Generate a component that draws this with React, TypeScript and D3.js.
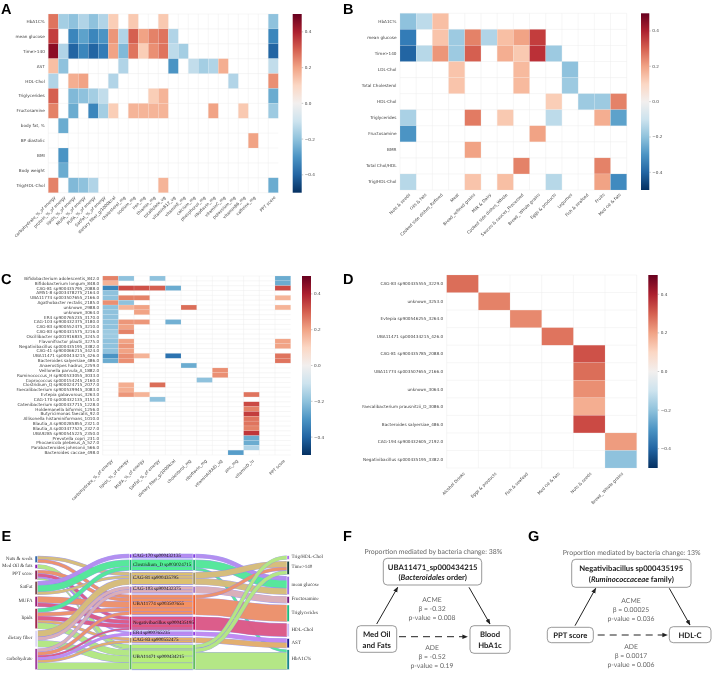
import React from 'react';
import * as d3 from 'd3';

// ---------- Panel A ----------
const aRows = ['HbA1C%','mean glucose','Time>140','AST','HDL-Chol','Triglycerides','Fructosamine','body fat, %','BP diastolic','BMI','Body weight','Trig/HDL-Chol'];
const aCols = ['carbohydrate_%_of energy','protein_%_of energy','lipids_%_of energy','MUFA_%_of energy','PUFA_%_of energy','SatFat_%_of energy','dietary fiber_g/1000kcal','cholesterol_mg','sodium_mg','iron_mg','thiamin_mg','totalfolate_ug','vitaminB12_ug','vitaminE_mg','calcium_mg','phosphorus_mg','riboflavin_mg','vitaminC_mg','potassium_mg','vitaminB6_mg','caffeine_mg'];
const aValues = [
  [.27,-.17,-.2,-.15,-.2,-.15,.12,0,.13,0,0,.13,0,0,0,0,0,0,0,0,0],
  [.35,0,-.33,-.27,-.33,-.3,.22,-.15,.3,.2,.25,.27,-.15,0,0,0,0,0,0,0,0],
  [.45,-.15,-.4,-.33,-.4,-.35,.2,-.22,.27,.12,.23,.27,-.13,-.17,0,0,0,0,0,0,0],
  [.15,-.2,0,0,0,0,0,-.15,0,0,0,0,-.3,0,-.12,-.17,-.15,.18,0,0,0],
  [-.15,0,.18,.2,0,0,-.15,0,0,0,0,0,0,0,0,0,0,0,-.15,0,0],
  [.3,0,-.22,-.2,-.17,-.12,0,0,0,0,.12,.17,0,0,0,0,0,0,0,0,0],
  [.25,0,-.25,0,-.33,-.17,.12,0,.17,.17,.17,.17,0,0,0,0,.2,0,0,.13,0],
  [0,-.25,0,0,0,0,0,0,0,0,0,0,0,0,0,0,0,0,0,0,0],
  [0,0,0,0,0,0,0,0,0,0,0,0,0,0,0,0,0,0,0,0,.2],
  [0,-.3,0,0,0,0,0,0,0,0,0,0,0,0,0,0,0,0,0,0,0],
  [0,-.25,0,0,0,0,0,0,0,0,0,0,0,0,0,0,0,0,0,0,0],
  [.25,0,-.22,-.2,-.15,0,0,0,0,0,0,.17,0,0,0,0,0,0,0,0,0],
];
const aPPT = [-.2,-.33,-.4,-.12,.23,-.25,-.18,0,0,0,0,-.25];

// ---------- Panel B ----------
const bRows = ['HbA1C%','mean glucose','Time>140','LDL-Chol','Total Cholesterol','HDL-Chol','Triglycerides','Fructosamine','BMR','Total Chol/HDL','Trig/HDL-Chol'];
const bCols = ['Nuts & seeds','Oils & fats','Cooked side dishes_Refined','Meat','Bread_refined grains','Milk & Dairy','Cooked side dishes_Whole','Sauces & sauces_Processed','Bread_ Whole grains','Eggs & products','Legumes','Fish & seafood','Fruits','Med Oil & fats'];
const bValues = [
  [-.2,-.13,.15,0,0,0,0,0,0,0,0,0,0,0],
  [-.35,0,.14,-.18,.25,-.15,.15,.2,.35,0,0,0,0,0],
  [-.4,-.14,.22,-.18,.3,0,.18,.13,.37,-.18,0,0,0,0],
  [0,0,0,.14,0,0,0,.16,0,0,-.2,0,0,0],
  [0,0,0,.14,0,0,0,.16,0,0,-.18,0,0,0],
  [0,0,0,0,0,0,0,0,0,.12,0,-.18,-.18,.25],
  [-.16,0,0,0,.26,0,.13,0,0,-.13,0,0,.18,-.27],
  [-.3,0,0,0,0,0,0,0,.2,0,0,0,0,0],
  [0,0,0,0,.2,0,0,0,0,0,0,0,0,0],
  [0,0,0,0,0,0,0,.25,0,0,0,0,.25,0],
  [-.14,0,0,0,.14,0,.15,0,0,-.14,0,0,.2,-.32],
];

// ---------- Panel C ----------
const cRows = ['Bifidobacterium adolescentis_842.0','Bifidobacterium longum_848.0','CAG-81 sp900435795_2088.0','AM51-8 sp003478275_2164.0','UBA11774 sp003507655_2166.0','Agathobacter rectalis_2185.0','unknown_2988.0','unknown_3064.0','ER4 sp900765235_3170.0','CAG-103 sp900432375_3180.0','CAG-83 sp900552475_3210.0','CAG-83 sp900431575_3216.0','Oscillibacter sp001916835_3245.0','Flavonifractor plautii_3275.0','Negativibacillus sp000435195_3382.0','CAG-41 sp900066215_3424.0','UBA11471 sp000434215_426.0','Bacteroides salyersiae_486.0','Anaerostipes hadrus_2259.0','Veillonella parvula_A_1882.0','Ruminococcus_H sp900533055_3033.0','Coprococcus sp000154245_2160.0','Clostridium_Q sp900024715_2077.0','Faecalibacterium sp900539945_3083.0','Evtepia gabavorous_3263.0','CAG-170 sp000432135_3151.0','Catenibacterium sp000437715_1228.0','Holdemanella biformis_1256.0','Butyricimonas faecalis_92.0','Allisonella histaminiformans_1010.0','Blautia_A sp900285855_2321.0','Blautia_A sp003477525_2327.0','UBA9285 sp900545225_2350.0','Prevotella copri_231.0','Phocaeicola plebeius_A_527.0','Parabacteroides johnsonii_566.0','Bacteroides caccae_498.0'];
const cCols = ['carbohydrate_%_of energy','lipids_%_of energy','MUFA_%_of energy','SatFat_%_of energy','dietary fiber_g/1000kcal','cholesterol_mg','riboflavin_mg','vitaminA(RAE)_ug','zinc_mg','vitaminD_iu'];
const cValues = [
  [.25,-.2,0,-.2,0,0,0,0,0,0],
  [.17,0,0,0,0,0,0,0,0,0],
  [-.33,.33,.32,.3,-.25,0,0,0,0,0],
  [-.2,0,0,0,0,0,0,0,0,0],
  [-.2,.25,.25,0,0,0,0,0,0,0],
  [.23,-.2,0,0,0,0,0,0,0,0],
  [-.2,.17,.2,0,0,.28,0,0,0,0],
  [-.2,0,.2,0,0,0,0,0,0,0],
  [-.2,0,0,0,0,0,0,0,0,0],
  [-.2,.22,.22,0,-.24,0,0,0,0,0],
  [-.2,.2,0,0,0,0,0,0,0,0],
  [-.18,.25,0,0,0,0,0,0,0,0],
  [-.18,0,0,0,0,0,0,0,0,0],
  [-.2,.2,0,0,0,0,0,0,0,0],
  [-.2,.22,0,0,0,0,0,0,0,0],
  [-.2,.2,0,0,0,0,0,0,0,0],
  [-.3,.23,.17,0,-.37,0,0,0,0,0],
  [-.25,.23,0,0,0,0,0,0,0,0],
  [0,0,0,0,0,-.25,0,0,0,0],
  [0,0,0,0,0,0,0,.23,0,0],
  [0,0,0,0,0,0,0,.23,0,0],
  [0,0,0,0,0,0,-.2,0,0,0],
  [0,.18,0,.28,0,0,0,0,0,0],
  [0,.18,0,0,0,0,0,0,0,0],
  [0,.22,.17,0,0,0,0,0,0,.27],
  [0,0,0,-.2,0,0,0,0,0,0],
  [0,0,0,0,0,0,0,0,0,.33],
  [0,0,0,0,0,0,0,0,0,.25],
  [0,0,0,0,0,0,0,0,0,.35],
  [0,0,0,0,0,0,0,0,0,.27],
  [0,0,0,0,0,0,0,0,0,.27],
  [0,0,0,0,0,0,0,0,0,.25],
  [0,0,0,0,0,0,0,0,0,.36],
  [0,0,0,0,0,0,0,0,0,-.25],
  [0,0,0,0,0,0,0,0,0,-.25],
  [0,0,0,0,0,0,0,0,0,-.15],
  [0,0,0,0,0,0,0,0,-.28,0],
];
const cPPT = [-.25,-.25,.33,0,.17,0,.17,0,0,0,0,0,0,.2,.2,0,.27,.27,0,0,0,0,0,0,0,0,0,0,0,0,0,0,0,0,0,0,0];

// ---------- Panel D ----------
const dRows = ['CAG-83 sp900435555_3229.0','unknown_3253.0','Evtepia sp900546255_3264.0','UBA11471 sp000434215_426.0','CAG-81 sp900435785_2088.0','UBA11774 sp003507655_2166.0','unknown_3064.0','Faecalibacterium prausnitzii_D_3086.0','Bacteroides salyersiae_486.0','CAG-194 sp900432605_2192.0','Negativibacillus sp000435195_3382.0'];
const dCols = ['Alcohol Drinks','Eggs & products','Fish & seafood','Med Oil & fats','Nuts & seeds','Bread_ Whole grains'];
const dValues = [
  [.28,0,0,0,0,0],
  [0,.25,0,0,0,0],
  [0,0,.24,0,0,0],
  [0,0,0,.27,0,0],
  [0,0,0,0,.32,0],
  [0,0,0,0,.28,0],
  [0,0,0,0,.23,0],
  [0,0,0,0,.18,0],
  [0,0,0,0,.33,0],
  [0,0,0,0,0,.21],
  [0,0,0,0,0,-.2],
];

// ---------- Panel E ----------
const leftNodes = ['Nuts & seeds','Med Oil & fats','PPT score','SatFat','MUFA','lipids','dietary fiber','carbohydrate'];
const midNodes = ['CAG-170 sp000432135','Clostridium_D sp003024715','CAG-81 sp900435795','CAG-103 sp900432375','UBA11774 sp003507655','Negativibacillus sp000435195','ER4 sp900765235','CAG-83 sp900552475','UBA11471 sp000434215'];
const rightNodes = ['Trig/HDL-Chol','Time>140','mean glucose','Fructosamine','Triglycerides','HDL-Chol','AST','HbA1C%'];
const leftFlows: [number, number, number][] = [
  [0,2,10],[0,4,10],[1,8,12],[2,4,10],[2,5,10],[2,6,4],[2,8,4],
  [3,0,12],[3,1,20],[3,2,8],[4,4,19],[4,5,12],
  [5,1,12],[5,4,11],[5,5,12],[5,7,8],[5,8,18],
  [6,2,19],[6,3,10],[6,8,20],
  [7,3,10],[7,4,10],[7,5,6],[7,6,8],[7,7,8],[7,8,21],
];
const rightFlows: [number, number, number][] = [
  [0,2,12],[1,2,24],[1,7,8],[2,1,18],[2,2,19],[3,3,20],[4,1,10],[4,4,50],
  [5,5,40],[6,6,12],[7,6,16],[8,0,11],[8,1,12],[8,7,52],
];
const flowColors = ['#b68cf0','#4fee92','#dcc070','#e0b0b4','#f49160','#e25580','#c487f2','#e9b062','#b6ee7a'];
const leftNodeColors = ['#3566a8','#8a22b0','#8a2a5a','#7a4a50','#96207a','#a02a50','#ddd6f4','#a040a0'];
const midNodeColors = ['#7a35e0','#14b070','#a09060','#a070c0','#f05a28','#c00a60','#8a35e0','#a88a50','#5ab85a'];
const rightNodeColors = ['#a868e8','#103838','#9468e0','#70107c','#12b878','#c8b8f4','#10108c','#108088'];

const colorScale = d3.scaleSequential((t: number) => d3.interpolateRdBu(1 - t)).domain([-0.5, 0.5]);
const barTicks = [-0.4, -0.2, 0, 0.2, 0.4];
const sansFont = '"DejaVu Sans", sans-serif';
const serifFont = '"Liberation Serif", serif';
const lato = 'Lato, "Open Sans", sans-serif';
const txt = '#444';

function T(p: any) {
  const { s, family, fs, weight, ...rest } = p;
  return (
    <text fontFamily={family} fontSize={fs} fontWeight={weight} {...rest}>{s}</text>
  );
}

type HM = {
  left: number; right: number; top: number; bottom: number;
  rows: string[]; cols: string[]; values: number[][];
  ppt?: number[]; pptLeft?: number; pptRight?: number;
  barLeft: number; barRight: number; gid: string; xOffset?: number; fs?: number;
};

function Heatmap(p: HM) {
  const fs = p.fs ?? 4.2;
  const x = d3.scaleBand<string>().domain(p.cols).range([p.left, p.right]);
  const y = d3.scaleBand<string>().domain(p.rows).range([p.top, p.bottom]);
  const barY = d3.scaleLinear().domain([-0.5, 0.5]).range([p.bottom, p.top]);
  const tx = p.bottom + (p.xOffset ?? 4);
  const pptX = p.pptLeft !== undefined ? (p.pptLeft + p.pptRight!) / 2 : 0;
  const grid = '#ececec';
  return (
    <g>
      <g stroke={grid} strokeWidth={0.5}>
        {p.rows.map((r, i) => (
          <line key={r + i} x1={p.left} x2={p.pptRight ?? p.right} y1={y.step() * i + p.top} y2={y.step() * i + p.top} />
        ))}
        <line x1={p.left} x2={p.pptRight ?? p.right} y1={p.bottom} y2={p.bottom} />
        {p.cols.map((c) => (
          <line key={c} x1={x(c)!} x2={x(c)!} y1={p.top} y2={p.bottom} />
        ))}
        <line x1={p.right} x2={p.right} y1={p.top} y2={p.bottom} />
        {p.pptLeft !== undefined && <line x1={p.pptLeft} x2={p.pptLeft} y1={p.top} y2={p.bottom} />}
      </g>
      {p.values.map((row, i) =>
        row.map((v, j) =>
          v !== 0 ? (
            <rect key={`${i}-${j}`} x={x(p.cols[j])!} y={y.step() * i + p.top} width={x.bandwidth()} height={y.bandwidth()}
              fill={colorScale(v)} stroke="#fff" strokeOpacity={0.3} strokeWidth={0.4} />
          ) : null
        )
      )}
      {p.ppt && p.ppt.map((v, i) =>
        v !== 0 ? (
          <rect key={i} x={p.pptLeft} y={y.step() * i + p.top} width={p.pptRight! - p.pptLeft!} height={y.bandwidth()}
            fill={colorScale(v)} stroke="#fff" strokeOpacity={0.3} strokeWidth={0.4} />
        ) : null
      )}
      {p.rows.map((r, i) => (
        <T key={r + i} s={r} family={sansFont} fs={fs} x={p.left - 3.5} y={y.step() * i + p.top + y.bandwidth() / 2} textAnchor="end" dominantBaseline="central" fill={txt} />
      ))}
      {p.cols.map((c) => {
        const cx = x(c)! + x.bandwidth() / 2;
        return (
          <T key={c} s={c} family={sansFont} fs={fs} transform={`translate(${cx + 1.5},${tx}) rotate(-45)`} textAnchor="end" dominantBaseline="central" fill={txt} />
        );
      })}
      {p.ppt && (
        <T s="PPT score" family={sansFont} fs={fs} transform={`translate(${pptX + 1.5},${tx}) rotate(-45)`} textAnchor="end" dominantBaseline="central" fill={txt} />
      )}
      <defs>
        <linearGradient id={p.gid} x1="0" x2="0" y1="0" y2="1">
          {d3.range(0, 1.001, 0.1).map((t) => (
            <stop key={t} offset={t} stopColor={d3.interpolateRdBu(t)} />
          ))}
        </linearGradient>
      </defs>
      <rect x={p.barLeft} y={p.top} width={p.barRight - p.barLeft} height={p.bottom - p.top} fill={`url(#${p.gid})`} />
      {barTicks.map((t) => (
        <g key={t}>
          <line x1={p.barRight} x2={p.barRight + 1.5} y1={barY(t)} y2={barY(t)} stroke="#777" strokeWidth={0.4} />
          <T s={d3.format('.1f')(t).replace('-', '\u2212')} family={sansFont} fs={fs} x={p.barRight + 3} y={barY(t)} dominantBaseline="central" fill={txt} />
        </g>
      ))}
    </g>
  );
}

function Sankey() {
  const unit = d3.scaleLinear().domain([0, 1]).range([0, 1 / 3]);
  const xs = { l0: 35, l1: 37.6, m0: 129.5, m1: 131.8, n0: 193, n1: 195.2, r0: 287, r1: 289.2 };
  const stack = (vals: number[], top: number, bottom: number) => {
    const total = d3.sum(vals.map((v) => unit(v)));
    const gap = (bottom - top - total) / (vals.length - 1);
    let cur = top;
    return vals.map((v) => {
      const y0 = cur;
      cur += unit(v);
      const y1 = cur;
      cur += gap;
      return [y0, y1];
    });
  };
  const lTot = leftNodes.map((_, i) => d3.sum(leftFlows.filter((f) => f[0] === i), (f) => f[2]));
  const mTot = midNodes.map((_, i) => d3.sum(rightFlows.filter((f) => f[0] === i), (f) => f[2]));
  const rTot = rightNodes.map((_, i) => d3.sum(rightFlows.filter((f) => f[1] === i), (f) => f[2]));
  const lY = stack(lTot, 556, 669.7);
  const mY = stack(mTot, 554, 669.7);
  const rY = stack(rTot, 555.7, 669.7);
  const link = d3.linkHorizontal<any, any>().x((d) => d[0]).y((d) => d[1]);

  const makeLinks = (flows: [number, number, number][], sY: number[][], tY: number[][], x0: number, x1: number, colorOf: (f: [number, number, number]) => string) => {
    const sOff = sY.map((d) => d[0]);
    const tOff = tY.map((d) => d[0]);
    const sorted = flows.slice().sort((a, b) => a[0] - b[0] || a[1] - b[1]);
    return sorted.map((f) => {
      const w = unit(f[2]);
      const ys = sOff[f[0]] + w / 2;
      const yt = tOff[f[1]] + w / 2;
      sOff[f[0]] += w;
      tOff[f[1]] += w;
      return { f, w, ys, yt, x0, x1, color: colorOf(f), d: link({ source: [x0, ys], target: [x1, yt] }) as string };
    });
  };
  const lLinks = makeLinks(leftFlows, lY, mY, xs.l1, xs.m0, (f) => flowColors[f[1]]);
  const rLinks = makeLinks(rightFlows, mY, rY, xs.n1, xs.r0, (f) => flowColors[f[0]]);
  const outline = '#8f8cf0';
  const all = [...lLinks, ...rLinks];
  return (
    <g>
      {all.map((l, i) => (
        <g key={i} fill="none">
          <path d={l.d} stroke={outline} strokeWidth={l.w + 0.5} strokeOpacity={0.8} />
          <path d={l.d} stroke={l.color} strokeWidth={Math.max(l.w - 0.3, 0.2)} strokeOpacity={0.9} />
        </g>
      ))}
      {midNodes.map((m, i) => (
        <rect key={m} x={xs.m1} y={mY[i][0]} width={xs.n0 - xs.m1} height={mY[i][1] - mY[i][0]} fill={flowColors[i]} stroke={outline} strokeWidth={0.5} />
      ))}
      {lLinks.map((l, i) => (
        <line key={i} x1={xs.m1} x2={xs.n0} y1={l.yt + l.w / 2} y2={l.yt + l.w / 2} stroke={outline} strokeWidth={0.5} />
      ))}
      {[
        [leftNodes, lY, xs.l0, xs.l1, leftNodeColors],
        [midNodes, mY, xs.m0, xs.m1, midNodeColors],
        [midNodes, mY, xs.n0, xs.n1, midNodeColors],
        [rightNodes, rY, xs.r0, xs.r1, rightNodeColors],
      ].map(([names, ys, a, b, cols]: any, k) =>
        names.map((n: string, i: number) => (
          <rect key={k + n} x={a} y={ys[i][0]} width={b - a} height={ys[i][1] - ys[i][0]} fill={cols[i]} stroke="#fff" strokeWidth={0.5} />
        ))
      )}
      <g fill="#333" dominantBaseline="central">
        {leftNodes.map((n, i) => (
          <T key={n} s={n} family={serifFont} fs={5} x={32.5} y={(lY[i][0] + lY[i][1]) / 2} textAnchor="end" />
        ))}
        {midNodes.map((n, i) => (
          <T key={n} s={n} family={serifFont} fs={5} x={133} y={(mY[i][0] + mY[i][1]) / 2} fill="#111" />
        ))}
        {rightNodes.map((n, i) => (
          <T key={n} s={n} family={serifFont} fs={5} x={291.5} y={(rY[i][0] + rY[i][1]) / 2} />
        ))}
      </g>
    </g>
  );
}

function Box(p: { x0: number; x1: number; y0: number; y1: number }) {
  return <rect x={p.x0} y={p.y0} width={p.x1 - p.x0} height={p.y1 - p.y0} rx={4} fill="#fff" stroke="#555" strokeWidth={0.6} />;
}
function Stat(p: { x: number; y: number; lines: string[] }) {
  return (
    <g fill="#666" textAnchor="middle">
      {p.lines.map((l, i) => (
        <T key={l} s={l} family={lato} fs={6.8} x={p.x} y={p.y + i * 9.2} />
      ))}
    </g>
  );
}

function Mediation() {
  const boldT = (x: number, y: number, t: React.ReactNode) => (
    <text x={x} y={y} fontFamily={lato} fontWeight={700} fontSize={7.7} fill="#222" textAnchor="middle" dominantBaseline="central">{t}</text>
  );
  const arrows = [
    [376.7, 624, 397.7, 587.3, false],
    [469, 587.3, 490, 624, false],
    [399, 636.7, 467.3, 636.7, true],
    [575, 625.7, 595.7, 588.3, false],
    [669.3, 588.3, 690, 625, false],
    [597.7, 635, 667.3, 635, true],
  ] as [number, number, number, number, boolean][];
  return (
    <g>
      <defs>
        <marker id="ah" viewBox="0 0 10 10" refX="9" refY="5" markerWidth="5.5" markerHeight="5.5" orient="auto" markerUnits="userSpaceOnUse">
          <path d="M0,1 L10,5 L0,9 Z" fill="#222" />
        </marker>
      </defs>
      <T s="Proportion mediated by bacteria change: 38%" family={lato} fs={6.9} x={433.3} y={552} fill="#666" textAnchor="middle" dominantBaseline="central" />
      <T s="Proportion mediated by bacteria change: 13%" family={lato} fs={6.9} x={631.7} y={553.3} fill="#666" textAnchor="middle" dominantBaseline="central" />
      <Box x0={383.3} x1={481.7} y0={558.3} y1={585} />
      <Box x0={356.7} x1={396.7} y0={625.7} y1={652.3} />
      <Box x0={470} x1={510} y0={625.7} y1={653.3} />
      <Box x0={571.7} x1={691} y0={559.3} y1={587.3} />
      <Box x0={547.3} x1={593.3} y0={627.3} y1={642.7} />
      <Box x0={669.3} x1={711} y0={626.7} y1={642.7} />
      {boldT(432.7, 566.7, 'UBA11471_sp000434215')}
      {boldT(432.7, 577, <tspan>(<tspan fontStyle="italic">Bacteroidales</tspan> order)</tspan>)}
      {boldT(376.7, 633.5, 'Med Oil')}
      {boldT(376.7, 644.7, 'and Fats')}
      {boldT(490, 633.5, 'Blood')}
      {boldT(490, 644.7, 'HbA1c')}
      {boldT(631.3, 567.5, 'Negativibacillus sp000435195')}
      {boldT(631.3, 578.5, <tspan>(<tspan fontStyle="italic">Ruminococcaceae</tspan> family)</tspan>)}
      {boldT(570.3, 635, 'PPT score')}
      {boldT(690, 635, 'HDL-C')}
      {arrows.map((a, i) => (
        <line key={i} x1={a[0]} y1={a[1]} x2={a[2]} y2={a[3]} stroke="#222" strokeWidth={1} strokeDasharray={a[4] ? '7 5' : undefined} markerEnd="url(#ah)" />
      ))}
      <Stat x={432} y={601.5} lines={['ACME', '\u03b2 = -0.32', 'p-value = 0.008']} />
      <Stat x={432} y={650} lines={['ADE', '\u03b2 = -0.52', 'p-value = 0.19']} />
      <Stat x={631} y={602.5} lines={['ACME', '\u03b2 = 0.00025', 'p-value = 0.036']} />
      <Stat x={631} y={649} lines={['ADE', '\u03b2 = 0.0017', 'p-value = 0.006']} />
    </g>
  );
}

const panelLetters: [string, number, number][] = [
  ['A', 1, 13.5], ['B', 343, 13.5], ['C', 1, 283.5], ['D', 343, 283.5], ['E', 1.5, 541], ['F', 343, 541], ['G', 528, 541],
];

export default function App() {
  return (
    <svg width={712} height={673} viewBox="0 0 712 673" textRendering="geometricPrecision" style={{ position: 'absolute', left: 0, top: 0, background: '#fff', filter: 'blur(0.3px)' }}>
      <Heatmap left={48.3} right={258.3} top={14} bottom={192.7} rows={aRows} cols={aCols} values={aValues}
        ppt={aPPT} pptLeft={268.3} pptRight={278.3} barLeft={292.7} barRight={301.7} gid="gA" />
      <Heatmap left={400} right={626.7} top={13.3} bottom={190} rows={bRows} cols={bCols} values={bValues}
        barLeft={641} barRight={649.3} gid="gB" />
      <Heatmap left={102.7} right={259.3} top={276} bottom={455} rows={cRows} cols={cCols} values={cValues}
        ppt={cPPT} pptLeft={275} pptRight={290.7} barLeft={302} barRight={311} gid="gC" xOffset={5} />
      <Heatmap left={446.7} right={636.7} top={275} bottom={468} rows={dRows} cols={dCols} values={dValues}
        barLeft={648.3} barRight={657.7} gid="gD" xOffset={5} />
      <Sankey />
      <Mediation />
      <g fontFamily='"Liberation Sans", sans-serif' fontWeight={700} fontSize={14.5} fill="#000">
        {panelLetters.map(([t, x, y]) => (
          <text key={t} x={x} y={y}>{t}</text>
        ))}
      </g>
    </svg>
  );
}
